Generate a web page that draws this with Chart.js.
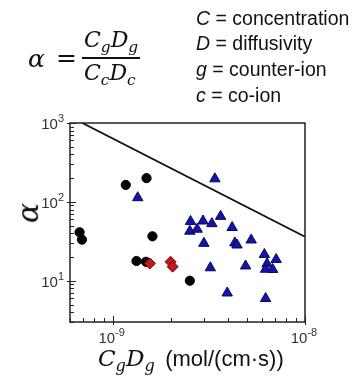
<!DOCTYPE html>
<html>
<head>
<meta charset="utf-8">
<script src="https://cdn.jsdelivr.net/npm/chart.js@4"></script>
<style>
html, body { margin: 0; padding: 0; background: #fff; }
#wrap { position: relative; width: 354px; height: 381px; overflow: hidden; }
canvas { position: absolute; left: 0; top: 0; }
.t { position: absolute; white-space: nowrap; color: #111; }
.m { font-family: "DejaVu Serif", serif; font-style: italic; }
.s { font-family: "Liberation Sans", Arial, sans-serif; }
.m sub { font-size: 70%; vertical-align: -0.3em; line-height: 0; }
.bar { position: absolute; height: 1.5px; background: #111; }
</style>
</head>
<body>
<div id="wrap">
  <canvas id="c" width="354" height="381"></canvas>

  <!-- formula -->
  <div class="t m" style="left:28px;top:46px;font-size:25px;line-height:25px">α</div>
  <div class="t" style="left:56px;top:45px;font-size:25px;line-height:25px;font-family:'DejaVu Serif',serif">=</div>
  <div class="t m" style="left:84px;top:29px;font-size:22px;line-height:22px">C<sub>g</sub>D<sub>g</sub></div>
  <div class="bar" style="left:82px;top:57px;width:58px"></div>
  <div class="t m" style="left:84px;top:62px;font-size:22px;line-height:22px">C<sub>c</sub>D<sub>c</sub></div>

  <!-- key -->
  <div class="t s" style="left:196px;top:8px;font-size:19.5px;line-height:20px"><i>C</i> = concentration</div>
  <div class="t s" style="left:196px;top:33px;font-size:19.5px;line-height:20px"><i>D</i> = diffusivity</div>
  <div class="t s" style="left:196px;top:59px;font-size:19.5px;line-height:20px"><i>g</i> = counter-ion</div>
  <div class="t s" style="left:196px;top:85px;font-size:19.5px;line-height:20px"><i>c</i> = co-ion</div>

  <!-- axis titles -->
  <div class="t m" style="left:18px;top:198px;font-size:30px;line-height:30px;transform:rotate(-90deg)">α</div>
  <div class="t" style="left:98px;top:347px;font-size:22px;line-height:22px">
    <span class="m" style="font-size:23px">C<sub>g</sub>D<sub>g</sub></span>
    <span class="s" style="margin-left:5px">(mol/(cm·s))</span>
  </div>
</div>

<script>
// counter-ion-excluding membranes (black circles)
const circleX = [1.17e-9, 1.50e-9, 6.73e-10, 6.92e-10, 1.61e-9, 1.33e-9, 1.49e-9, 2.52e-9];
const circleY = [164, 200, 41.2, 33.2, 36.6, 17.8, 17.4, 10.0];

// red diamonds
const diamondX = [1.56e-9, 2.00e-9, 2.05e-9];
const diamondY = [16.6, 17.4, 15.1];

// blue triangles
const triangleX = [3.40e-9, 1.35e-9, 2.54e-9, 2.95e-9, 3.28e-9, 3.64e-9, 2.52e-9, 2.75e-9,
                   4.18e-9, 2.98e-9, 4.32e-9, 4.43e-9, 5.25e-9, 6.15e-9, 7.08e-9, 6.35e-9,
                   6.24e-9, 6.79e-9, 3.22e-9, 4.91e-9, 3.94e-9, 6.24e-9];
const triangleY = [196, 113, 56.5, 57.2, 53.0, 65.5, 42.5, 45.0,
                   47.3, 29.8, 30.2, 28.4, 32.9, 21.5, 18.6, 16.4,
                   14.0, 13.9, 14.6, 15.4, 7.0, 5.95];

// upper bound line
const boundX = [6.95e-10, 1e-8];
const boundY = [1000, 36.2];

// axes
const xMin = 6e-10, xMax = 1e-8;
const yMin = 3, yMax = 1000;
const xTickExps = [-9, -8];
const yTickExps = [1, 2, 3];

const pts = (xs, ys) => xs.map((x, i) => ({ x: x, y: ys[i] }));

function drawPow(ctx, exp, x, y, align) {
    ctx.font = '15px "Liberation Sans", Arial, sans-serif';
    const bw = ctx.measureText('10').width;
    ctx.font = '11px "Liberation Sans", Arial, sans-serif';
    const ew = ctx.measureText(String(exp)).width;
    const left = align === 'right' ? x - bw - ew : x - (bw + ew) / 2;
    ctx.textAlign = 'left';
    ctx.textBaseline = 'middle';
    ctx.font = '15px "Liberation Sans", Arial, sans-serif';
    ctx.fillText('10', left, y);
    ctx.font = '11px "Liberation Sans", Arial, sans-serif';
    ctx.fillText(String(exp), left + bw, y - 6);
}

const axesBox = {
    id: 'axesBox',
    afterDraw(chart) {
        const ctx = chart.ctx;
        const a = chart.chartArea;
        const xs = chart.scales.x, ys = chart.scales.y;
        ctx.save();
        ctx.strokeStyle = '#222';
        ctx.fillStyle = '#333';
        ctx.lineWidth = 1.5;
        ctx.strokeRect(a.left, a.top, a.right - a.left, a.bottom - a.top);

        // y ticks (inward)
        ctx.lineWidth = 1;
        for (let e = 0; e <= 3; e++) {
            for (let m = 1; m <= 9; m++) {
                const v = m * Math.pow(10, e);
                if (v < yMin || v > yMax) continue;
                const py = Math.round(ys.getPixelForValue(v)) + 0.5;
                ctx.beginPath();
                if (m === 1) { ctx.moveTo(a.left - 3, py); ctx.lineTo(a.left + 6, py); }
                else { ctx.moveTo(a.left, py); ctx.lineTo(a.left + 4, py); }
                ctx.stroke();
            }
        }
        // x ticks (inward)
        for (let e = -10; e <= -8; e++) {
            for (let m = 1; m <= 9; m++) {
                const v = m * Math.pow(10, e);
                if (v < xMin * 0.999 || v > xMax * 1.001) continue;
                const px = Math.round(xs.getPixelForValue(v)) + 0.5;
                ctx.beginPath();
                if (m === 1) { ctx.moveTo(px, a.bottom + 3); ctx.lineTo(px, a.bottom - 6); }
                else { ctx.moveTo(px, a.bottom); ctx.lineTo(px, a.bottom - 4); }
                ctx.stroke();
            }
        }

        yTickExps.forEach(e => {
            drawPow(ctx, e, a.left - 6, ys.getPixelForValue(Math.pow(10, e)) + 2, 'right');
        });
        xTickExps.forEach(e => {
            drawPow(ctx, e, xs.getPixelForValue(Math.pow(10, e)) - 1, a.bottom + 17, 'center');
        });
        ctx.restore();
    }
};

new Chart(document.getElementById('c'), {
    type: 'scatter',
    data: {
        datasets: [
            {
                label: 'diamonds',
                data: pts(diamondX, diamondY),
                pointStyle: 'rectRot',
                pointRadius: 5.5,
                backgroundColor: '#c8161b',
                borderColor: '#5a0a0a',
                borderWidth: 1
            },
            {
                label: 'triangles',
                data: pts(triangleX, triangleY),
                pointStyle: 'triangle',
                pointRadius: 6,
                backgroundColor: '#1414a8',
                borderColor: '#0a0a5a',
                borderWidth: 1
            },
            {
                label: 'circles',
                data: pts(circleX, circleY),
                pointStyle: 'circle',
                pointRadius: 4.6,
                backgroundColor: '#000',
                borderColor: '#000',
                borderWidth: 1
            },
            {
                label: 'bound',
                data: pts(boundX, boundY),
                showLine: true,
                pointRadius: 0,
                borderColor: '#111',
                borderWidth: 1.8,
                fill: false
            }
        ]
    },
    options: {
        responsive: false,
        animation: false,
        layout: { padding: { left: 70, right: 49, top: 123, bottom: 59 } },
        plugins: { legend: { display: false }, tooltip: { enabled: false } },
        scales: {
            x: { type: 'logarithmic', min: xMin, max: xMax, display: false },
            y: { type: 'logarithmic', min: yMin, max: yMax, display: false }
        }
    },
    plugins: [axesBox]
});
</script>
</body>
</html>
